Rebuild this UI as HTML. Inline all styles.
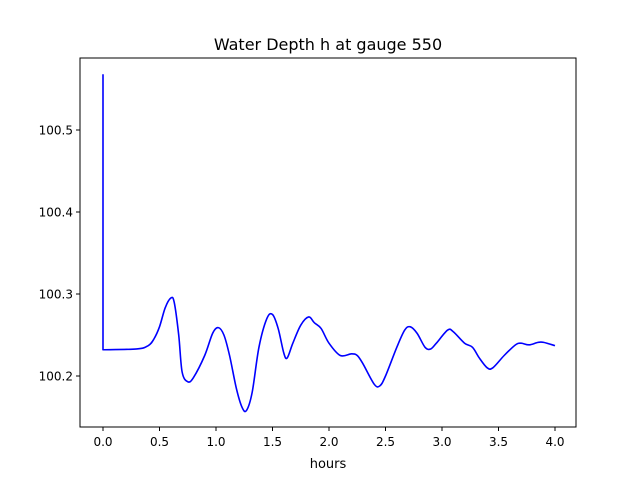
<!DOCTYPE html>
<html><head><meta charset="utf-8"><style>
body{margin:0;background:#fff}
svg text{font-family:"DejaVu Sans","Liberation Sans",sans-serif;fill:#000}
</style></head><body>
<svg id="chart" width="640" height="480" xmlns="http://www.w3.org/2000/svg">
<rect width="640" height="480" fill="#fff"/>
<text x="328" y="50" font-size="16" text-anchor="middle">Water Depth h at gauge 550</text>
<g id="plot"></g>
<rect x="80" y="58" width="496" height="369" fill="none" stroke="#000" stroke-width="1"/>
<text x="328" y="468" font-size="13" text-anchor="middle">hours</text>
</svg>
<script>
const times=[0.0,0.3,0.4,0.45,0.5,0.55,0.6,0.63,0.67,0.7,0.75,0.8,0.9,0.97,1.02,1.07,1.12,1.18,1.23,1.27,1.32,1.38,1.45,1.5,1.55,1.6,1.63,1.68,1.75,1.82,1.87,1.93,2.0,2.1,2.2,2.25,2.3,2.4,2.45,2.5,2.6,2.67,2.72,2.78,2.85,2.9,2.95,3.05,3.1,3.2,3.27,3.33,3.4,3.45,3.55,3.65,3.7,3.77,3.85,3.9,4.0];
const depths=[100.232,100.233,100.237,100.245,100.26,100.283,100.295,100.29,100.25,100.205,100.193,100.198,100.225,100.252,100.259,100.25,100.225,100.185,100.162,100.158,100.18,100.235,100.27,100.275,100.258,100.228,100.222,100.24,100.262,100.272,100.265,100.258,100.24,100.225,100.227,100.225,100.215,100.19,100.188,100.2,100.235,100.256,100.26,100.252,100.235,100.233,100.24,100.256,100.254,100.24,100.235,100.222,100.21,100.21,100.225,100.238,100.24,100.238,100.241,100.241,100.237];
const spikeValue=100.568;
const xTicks=[0.0,0.5,1.0,1.5,2.0,2.5,3.0,3.5,4.0];
const xTickLabels=["0.0","0.5","1.0","1.5","2.0","2.5","3.0","3.5","4.0"];
const yTicks=[100.2,100.3,100.4,100.5];
const yTickLabels=["100.2","100.3","100.4","100.5"];
const X=t=>103+t*113;
const Y=v=>376-(v-100.2)*820;
const g=document.getElementById('plot');
const NS='http://www.w3.org/2000/svg';
function mk(tag,attrs){const e=document.createElementNS(NS,tag);for(const k in attrs)e.setAttribute(k,attrs[k]);g.appendChild(e);return e;}
xTicks.forEach((t,i)=>{
 const l=mk('line',{x1:X(t),x2:X(t),y1:427,y2:431,stroke:'#000'});
 
 
 const tx=mk('text',{x:X(t),y:446,'font-size':12,'text-anchor':'middle'});tx.textContent=xTickLabels[i];
 
 
});
yTicks.forEach((v,i)=>{
 const l=mk('line',{x1:76,x2:80,y1:Y(v),y2:Y(v),stroke:'#000'});
 
 
 const tx=mk('text',{x:73,y:Y(v)+4.5,'font-size':12,'text-anchor':'end'});tx.textContent=yTickLabels[i];
 
 
});
const P=times.map((t,i)=>[X(t),Y(depths[i])]);
let d=`M${X(0)},${Y(spikeValue)} L${P[0][0]},${P[0][1]}`;
for(let i=0;i<P.length-1;i++){
 const p0=P[i-1]||P[i],p1=P[i],p2=P[i+1],p3=P[i+2]||P[i+1];
 const c1=[p1[0]+(p2[0]-p0[0])/6,p1[1]+(p2[1]-p0[1])/6];
 const c2=[p2[0]-(p3[0]-p1[0])/6,p2[1]-(p3[1]-p1[1])/6];
 d+=` C${c1[0]},${c1[1]} ${c2[0]},${c2[1]} ${p2[0]},${p2[1]}`;
}
const line=mk('path',{d:d,fill:'none',stroke:'#0000ff','stroke-width':1.6,'stroke-linejoin':'round'});


</script>
</body></html>
